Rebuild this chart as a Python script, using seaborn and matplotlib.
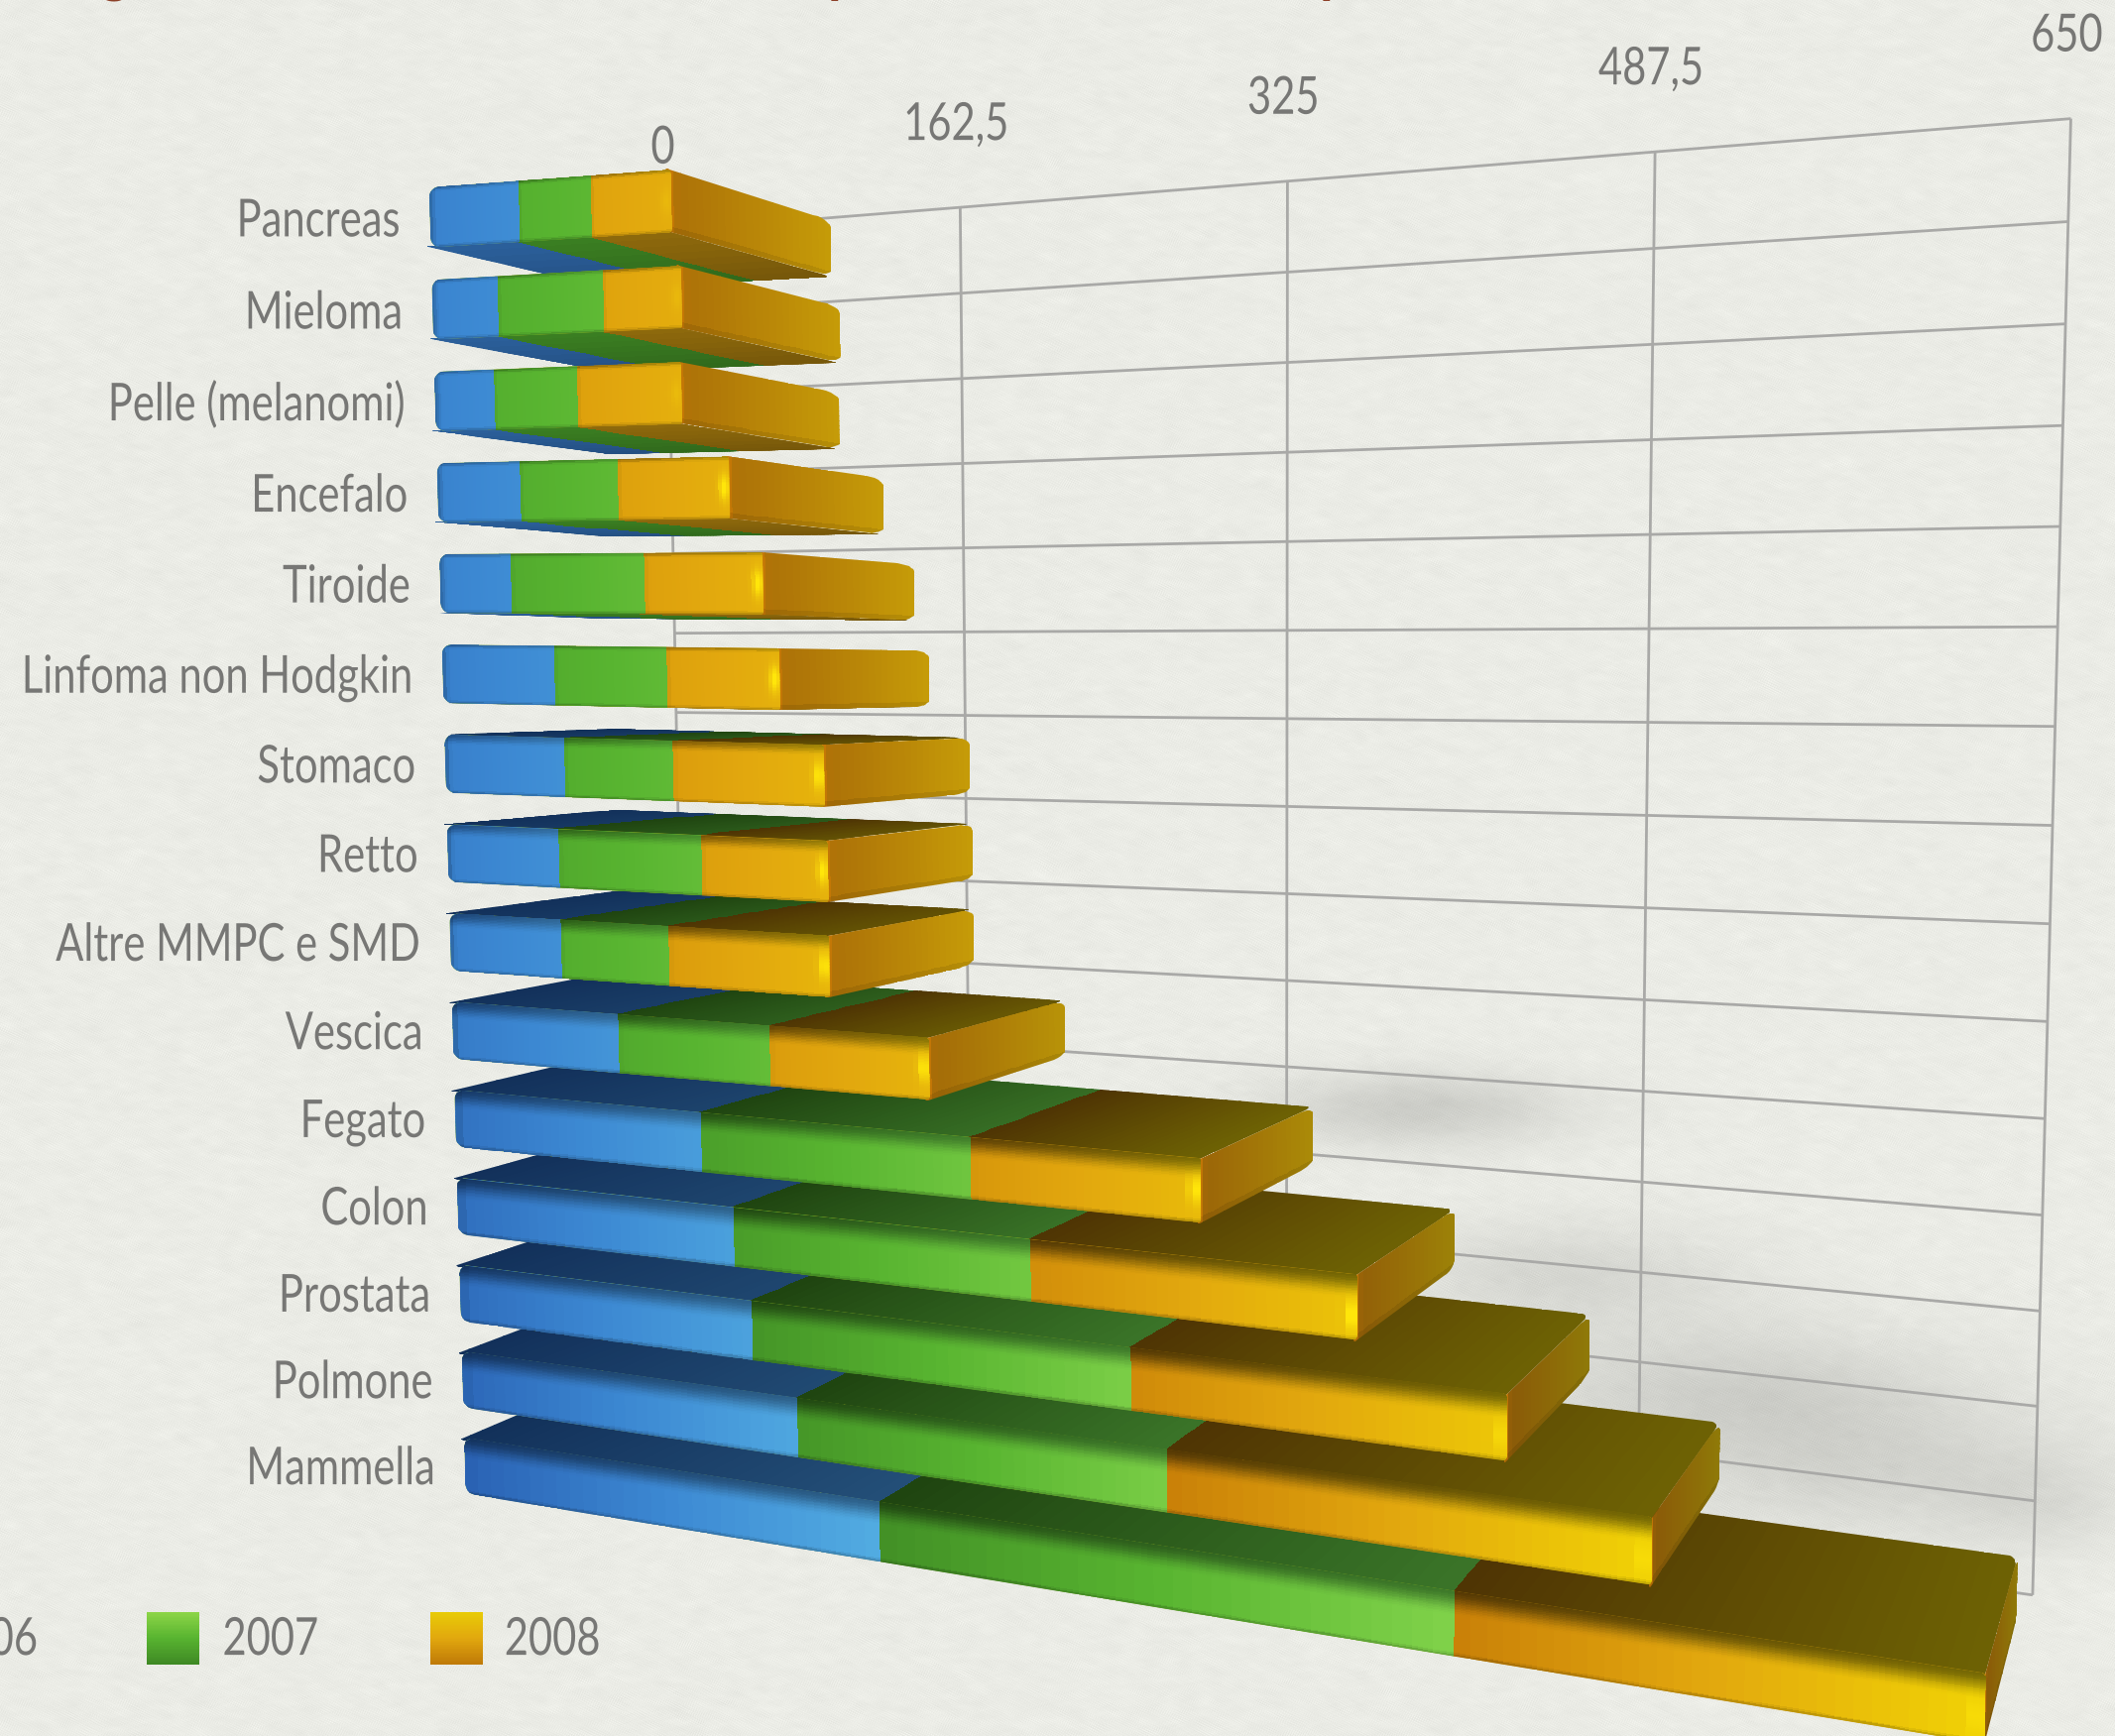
import numpy as np
import matplotlib
matplotlib.use("Agg")
import matplotlib.pyplot as plt
from matplotlib.transforms import Transform, Affine2D, Bbox
from matplotlib.path import Path
from matplotlib.patheffects import AbstractPathEffect
from matplotlib.colors import to_rgb
import seaborn as sns

categories = ["Pancreas", "Mieloma", "Pelle (melanomi)", "Encefalo", "Tiroide",
              "Linfoma non Hodgkin", "Stomaco", "Retto", "Altre MMPC e SMD", "Vescica",
              "Fegato", "Colon", "Prostata", "Polmone", "Mammella"]
years = ["2006", "2007", "2008"]
v2006 = [46, 34, 31, 43, 37, 58, 62, 58, 58, 86, 126, 141, 149, 170, 208]
v2007 = [36, 53, 42, 49, 67, 56, 54, 71, 54, 74, 126, 137, 172, 166, 244]
v2008 = [39, 38, 51, 54, 57, 54, 72, 60, 77, 74, 99, 136, 151, 190, 190]
axis_ticks = [0, 162.5, 325, 487.5, 650]
axis_labels = ["0", "162,5", "325", "487,5", "650"]

sns.set_theme(style="white")
plt.rcParams["font.family"] = ["Lato", "DejaVu Sans"]

W, H = 2133, 1751
SC = W / 1568.0          # working units -> pixels
HV = H / SC
BAR = 0.65
HB = BAR / 2


def homography(pairs):
    A, b = [], []
    for (u, w), (x, y) in pairs:
        A.append([u, w, 1, 0, 0, 0, -u * x, -w * x]); b.append(x)
        A.append([0, 0, 0, u, w, 1, -u * y, -w * y]); b.append(y)
    s = np.linalg.lstsq(np.array(A, float), np.array(b, float), rcond=None)[0]
    return np.append(s, 1).reshape(3, 3)


# camera: front plane of the bars, back wall, and depth vanishing point
FRONT = homography([((0, -HB), (319, 138)), ((0, 3), (324, 365)), ((0, 7), (332, 634)),
                    ((0, 11), (339, 896)), ((0, 14 + HB), (345, 1105)),
                    ((650, -HB), (1512, 51)), ((650, 14 + HB), (1490, 1296))])
WALL = homography([((162.5, 0), (712, 155)), ((325, 0), (955, 133)), ((487.5, 0), (1227, 112)),
                   ((650, 0), (1535, 88)), ((650, 5), (1525, 466)), ((650, 10), (1517, 829)),
                   ((650, 15), (1507, 1183)), ((0, 5), (500, 470)), ((162.5, 7), (715, 592)),
                   ((162.5, 9), (718, 713)), ((487.5, 13), (1216, 1011)), ((650, 14), (1508, 1112))])
VP = np.array([1675.0, 500.0, 1.0])
DEPTH = 0.107


class Proj(Transform):
    input_dims = 2
    output_dims = 2
    has_inverse = False

    def __init__(self, fn, M=FRONT):
        super().__init__()
        self.fn, self.M = fn, M

    def transform_non_affine(self, values):
        values = np.asarray(values, float)
        v, r, d = self.fn(values[:, 0], values[:, 1])
        M = self.M
        X = M[0, 0] * v + M[0, 1] * r + M[0, 2] + d * DEPTH * VP[0]
        Y = M[1, 0] * v + M[1, 1] * r + M[1, 2] + d * DEPTH * VP[1]
        Q = M[2, 0] * v + M[2, 1] * r + M[2, 2] + d * DEPTH
        return np.column_stack([X / Q * SC, (HV - Y / Q) * SC])


front_t = Proj(lambda a, b: (a, b, 0 * a))
wall_t = Proj(lambda a, b: (a, b, 0 * a), M=WALL)
page_t = Affine2D().scale(SC, -SC).translate(0, H)


def top_t(row):
    return Proj(lambda a, b: (a, 0 * a + row, b))


def cap_t(val):
    return Proj(lambda a, b: (0 * a + val, b, a))


def rounded(x0, x1, y0, y1, radii):
    """Closed outline; radii = ((rx, ry) at x0y0, x1y0, x1y1, x0y1)."""
    pts = []
    corners = [(x0, y0, 1, 1, np.pi), (x1, y0, -1, 1, 1.5 * np.pi), (x1, y1, -1, -1, 0), (x0, y1, 1, -1, .5 * np.pi)]
    for (cx, cy, sx, sy, start), (rx, ry) in zip(corners, radii):
        for ang in np.linspace(start, start + .5 * np.pi, 7):
            pts.append((cx + sx * rx + rx * np.cos(ang), cy + sy * ry + ry * np.sin(ang)))
    pts.append(pts[0])
    return Path(np.array(pts))


def hexa(c):
    return np.array(to_rgb(c))


def lerp(a, b, t):
    t = np.asarray(t)[..., None]
    return a * (1 - t) + b * t


def sstep(a, b, x):
    t = np.clip((x - a) / (b - a), 0, 1)
    return t * t * (3 - 2 * t)


STY = {
    0: dict(l="#2a62b4", m="#3c88d2", r="#52ace2", t0="#12305a", t1="#2b5c84", b="#2b609c"),
    1: dict(l="#429026", m="#58b430", r="#80d24a", t0="#1f4410", t1="#3a7428", b="#3b7f22"),
    2: dict(l="#c98008", m="#e2a80e", r="#f0d205", t0="#4e3404", t1="#6e6204", b="#8f6a0c"),
}

# ---------- canvas background ----------
fig = plt.figure(figsize=(W / 100, H / 100), dpi=100)
bg = fig.add_axes([0, 0, 1, 1], zorder=0)
rng = np.random.default_rng(7)
n = rng.normal(size=(H, W))
tex = sum(np.roll(n, (k, 2 * k), axis=(0, 1)) for k in range(6)) / 6
tex = sum(np.roll(tex, (-k, 3 * k), axis=(0, 1)) for k in range(4)) / 4
base = hexa("#ebece6")[None, None, :] + (tex * 0.05)[..., None]
yy, xx = np.mgrid[0:H, 0:W] / SC
blobs = [(1050, 822, 80, 20, .13), (1160, 945, 90, 28, .09), (1280, 1030, 120, 36, .11),
         (1385, 1090, 115, 38, .09), (1510, 1115, 50, 26, .05)]
sh = np.zeros((H, W))
for cx, cy, sx, sy, a in blobs:
    sh += a * np.exp(-((xx - cx) / sx) ** 2 / 2 - ((yy - cy) / sy) ** 2 / 2)
img = np.clip(base * (1 - np.clip(sh, 0, .5))[..., None], 0, 1)
bg.imshow(img, aspect="auto", interpolation="nearest")
bg.axis("off")

ax = fig.add_axes([0, 0, 1, 1], zorder=1)
ax.patch.set_alpha(0)

# ---------- wall ----------
GRID = "#a9a9a7"
for v in axis_ticks:
    ax.plot([v, v], [0, 15], color=GRID, lw=2.0, transform=wall_t, zorder=2, solid_capstyle="butt")
for r in range(16):
    ax.plot([0, 650], [r, r], color=GRID, lw=2.0, transform=wall_t, zorder=2, solid_capstyle="butt")

# ---------- bars: seaborn cumulative stacks ----------
c1, c2, c3 = np.array(v2006, float), np.array(v2007, float), np.array(v2008, float)
cum = [c1, c1 + c2, c1 + c2 + c3]
RANK = {r: k for k, r in enumerate([0, 1, 2, 3, 4] + list(range(14, 5, -1)) + [5])}
CORNER_V, CORNER_R = 5.0, 0.11
OVERLAP = 0.03   # side faces run slightly under the front face


def front_outline(i):
    return rounded(0, cum[2][i], i - HB, i + HB,
                   ((CORNER_V, CORNER_R), (1.5, .04), (1.5, .04), (CORNER_V, CORNER_R)))


for k in (2, 1, 0):
    n0 = len(ax.patches)
    sns.barplot(x=cum[k], y=categories, order=categories, color=STY[k]["m"], saturation=1,
                orient="h", width=BAR, ax=ax, legend=False, edgecolor="none", linewidth=0)
    for i, p in enumerate(ax.patches[n0:]):
        p.set_transform(front_t)
        p.set_zorder(10 * RANK[i] + 14)
        p.set_clip_path(front_outline(i), front_t)

NU, NW = 30, 40


def grid_front(i, lo, hi, k, total):
    s = STY[k]
    u = np.linspace(lo, hi, NU + 1)
    w = np.linspace(i - HB, i + HB, NW + 1)
    T, Z = np.meshgrid((np.arange(NU) + .5) / NU, (np.arange(NW) + .5) / NW)
    extent = min(1.0, (hi - lo) / 190.0) ** 1.3
    col = np.where((T < .5)[..., None],
                   lerp(hexa(s["m"]), hexa(s["l"]), (1 - 2 * T) * extent),
                   lerp(hexa(s["m"]), hexa(s["r"]), (2 * T - 1) * extent))
    dark = lerp(hexa(s["t0"]), hexa(s["t1"]), T)
    if i > 5:
        a = np.clip((i - 5) / 6, 0, 1)
        col = lerp(col, dark, (.55 + .4 * a) * (1 - sstep(0.0, .14 + .26 * a, Z)))
    else:
        col = lerp(col, dark, 0.5 * (1 - sstep(0.0, 0.08, Z)))
    col = lerp(col, col * .8, 1 - sstep(0.0, 0.06, 1 - Z))
    if k == 0:
        col = lerp(col, col * .8, 1 - sstep(0, 4 / max(hi - lo, 1), T))
    else:
        col = lerp(col, col * .93, 1 - sstep(0, 2 / max(hi - lo, 1), T))
    if k == 2:
        # glint at the rounded corner
        dist = hi - (lo + T * (hi - lo))
        cz = .5 if i < 11 else .64
        power = .2 if i < 3 else (1.1 if i < 12 else .5)
        g = np.exp(-(dist - 2.5) ** 2 / (2 * 1.8 ** 2)) * np.exp(-(Z - cz) ** 2 / (2 * .15 ** 2))
        col = lerp(col, hexa("#ffe60a"), np.clip(g * power, 0, 1))
    return u, w, np.clip(col, 0, 1)


def grid_top(i, lo, hi, k):
    s = STY[k]
    u = np.linspace(lo, hi, NU + 1)
    d = np.linspace(-OVERLAP, 1, 17)
    T, Z = np.meshgrid((np.arange(NU) + .5) / NU, (np.arange(16) + .5) / 16)
    reach = np.clip(hi / 300.0, .1, 1)
    col = lerp(hexa(s["t0"]), hexa(s["t1"]), T * reach)
    return u, d, col


def grid_bottom(i, lo, hi, k):
    s = STY[k]
    u = np.linspace(lo, hi, NU + 1)
    d = np.linspace(-OVERLAP, 1, 9)
    T, Z = np.meshgrid((np.arange(NU) + .5) / NU, (np.arange(8) + .5) / 8)
    col = lerp(hexa(s["b"]), hexa(s["b"]) * .82, Z)
    return u, d, col


def grid_cap(i, total):
    a = np.clip((i - 8) / 4, 0, 1)
    f0 = lerp(hexa("#ab6f08"), hexa("#8a5808"), a)
    f1 = lerp(hexa("#c69c08"), hexa("#8f7a08"), a)
    d = np.linspace(-OVERLAP, 1, 25)
    w = np.linspace(i - HB, i + HB, 13)
    T, Z = np.meshgrid((np.arange(24) + .5) / 24, (np.arange(12) + .5) / 12)
    col = lerp(f0, f1, T)
    col = lerp(col, hexa("#c87806"), 1 - sstep(0, .08, T))
    col = lerp(col, col * .82, 1 - sstep(0, .08, 1 - Z))
    return d, w, col


for i in range(15):
    z = 10 * RANK[i] + 10
    edges = [0.0, cum[0][i], cum[1][i], cum[2][i]]
    total = edges[-1]
    # only the side that faces the viewer: rows above the horizon show their underside
    face = "bottom" if i <= 5 else "top"
    row = i - HB if face == "top" else i + HB
    clip = rounded(0, total, -OVERLAP, 1, ((3, .02), (3, .02), (3, .1), (3, .05)))
    for k in range(3):
        u, d, col = (grid_top if face == "top" else grid_bottom)(i, edges[k], edges[k + 1], k)
        m = ax.pcolormesh(u, d, col, transform=top_t(row), zorder=z, shading="flat",
                          antialiased=False, linewidth=0)
        m.set_clip_path(clip, top_t(row))
    d, w, col = grid_cap(i, total)
    m = ax.pcolormesh(d, w, col, transform=cap_t(total), zorder=z + 2, shading="flat",
                      antialiased=False, linewidth=0)
    m.set_clip_path(rounded(-OVERLAP, 1, i - HB, i + HB, ((.02, .02), (.12, .08), (.12, .08), (.02, .02))), cap_t(total))
    clip = front_outline(i)
    for k in range(3):
        u, w, col = grid_front(i, edges[k], edges[k + 1], k, total)
        m = ax.pcolormesh(u, w, col, transform=front_t, zorder=z + 5, shading="flat",
                          antialiased=False, linewidth=0)
        m.set_clip_path(clip, front_t)


# ---------- text ----------
class Squeeze(AbstractPathEffect):
    """Condensed letterforms: narrows a text about its anchor."""

    def __init__(self, text, fx):
        super().__init__()
        self.text, self.fx = text, fx

    def anchor(self):
        return self.text.get_transform().transform(self.text.get_position())[0]

    def draw_path(self, renderer, gc, tpath, affine, rgbFace=None):
        x = self.anchor()
        narrowed = affine + Affine2D().translate(-x, 0).scale(self.fx, 1).translate(x, 0)
        renderer.draw_path(gc, tpath, narrowed, rgbFace)


TXT = "#777775"
FS, FX = 38, 0.79


def narrow_text(x, y, s, transform, **kw):
    t = ax.text(x, y, s, transform=transform, color=TXT, fontsize=FS, zorder=900, clip_on=False,
                va="baseline", **kw)
    eff = Squeeze(t, FX)
    t.set_path_effects([eff])
    plain = t.get_window_extent

    def extent(renderer=None, dpi=None):
        b = plain(renderer, dpi)
        xa = eff.anchor()
        return Bbox([[xa + (b.x0 - xa) * FX, b.y0], [xa + (b.x1 - xa) * FX, b.y1]])

    t.get_window_extent = extent
    return t


lab_t = front_t + Affine2D().translate(-22 * SC, -14 * SC)
for i, name in enumerate(categories):
    narrow_text(0, i, name, lab_t, ha="right")
tick_t = wall_t + Affine2D().translate(-3 * SC, 50 * SC)
for v, lab in zip(axis_ticks, axis_labels):
    narrow_text(v, 0, lab, tick_t, ha="center")

# legend (its first swatch lies outside the page)
legend_x = [(-97, 28, None), (109, 165, STY[1]), (319, 374, STY[2])]
for (sx, tx, sty), year in zip(legend_x, years):
    narrow_text(tx, 1227, year, page_t, ha="left" if sty else "right")
    if sty:
        ys = np.linspace(1195, 1234, 41)
        xs = np.array([sx, sx + 39])
        T = ((np.arange(40) + .5) / 40)[:, None]
        top_c = hexa("#8ed648") if sty is STY[1] else hexa("#e8cc06")
        col = np.where((T < .5)[..., None],
                       lerp(top_c, hexa(sty["m"]), 2 * T), lerp(hexa(sty["m"]), hexa(sty["l"]) * .95, 2 * T - 1))
        ax.pcolormesh(xs, ys, col, transform=page_t, zorder=900, shading="flat", antialiased=False, linewidth=0)

# the title runs off the top of the page: only its descenders show
for tx, ch in [(85, "g"), (625, "p"), (990, "p")]:
    ax.text(tx, -6, ch, transform=page_t, ha="center", va="baseline", color="#8c4028",
            fontsize=40, fontweight="bold", zorder=900, clip_on=False)

ax.set_xlim(0, 650)
ax.set_ylim(15, -1)
ax.axis("off")
fig.savefig("out.png", dpi=100)
